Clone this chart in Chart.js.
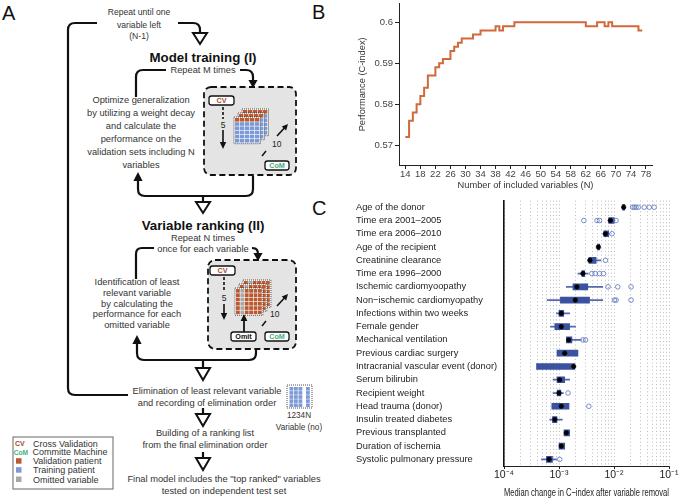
<!DOCTYPE html>
<html><head><meta charset="utf-8">
<script src="https://cdn.jsdelivr.net/npm/chart.js@4.4.1/dist/chart.umd.min.js"></script>
<style>
html,body{margin:0;padding:0;background:#fff;width:688px;height:498px;overflow:hidden;}
#wrap{position:relative;width:688px;height:498px;overflow:hidden;}
#svgA{position:absolute;left:0;top:0;}
#cB{position:absolute;left:345px;top:-4px;width:343px;height:199px;}
#cC{position:absolute;left:345px;top:195px;width:343px;height:305px;}
</style></head><body>
<div id="wrap">
<svg id="svgA" width="345" height="498" viewBox="0 0 345 498" font-family="'Liberation Sans', Arial, sans-serif">
<text x="2" y="20" font-size="20" fill="#111">A</text>
<text x="312" y="19" font-size="20" fill="#111">B</text>
<text x="312" y="215" font-size="20" fill="#111">C</text>

<rect x="204" y="87" width="92" height="88" rx="7" fill="#e4e4e4" stroke="#111" stroke-width="1.8" stroke-dasharray="6,3.5"/>
<rect x="208" y="260" width="88" height="89" rx="7" fill="#e4e4e4" stroke="#111" stroke-width="1.8" stroke-dasharray="6,3.5"/>

<g fill="none" stroke="#111" stroke-width="2.2" stroke-linejoin="round">
<path d="M128,395 H75 Q68,395 68,388 V30 Q68,23 75,23 H97"/>
<path d="M178,23 H193 Q200,23 200,30 V33"/>
<path d="M166,70 H143 Q136,70 136,77 V97"/>
<path d="M240,70 H246 Q253,70 253,77 V81"/>
<path d="M138,180 V189 Q138,196 145,196 H246 Q253,196 253,189 V176"/>
<path d="M203,196 V202"/>
<path d="M154,248 H142 Q136,248 136,254 V279"/>
<path d="M252,248 Q258,248 258,254"/>
<path d="M137,343 V353 Q137,360 144,360 H249 Q256,360 256,353 V349"/>
<path d="M203,360 V368"/>
<path d="M203,408 V414"/>
<path d="M203,452 V458"/>
</g>
<g fill="#fff" stroke="#111" stroke-width="2" stroke-linejoin="miter">
<polygon points="193,33 207,33 200,44"/>
<polygon points="196,202 210,202 203,213"/>
<polygon points="196,368 210,368 203,380"/>
<polygon points="196,414 210,414 203,426"/>
<polygon points="196,458 210,458 203,470"/>
</g>
<g id="gridLayer"></g>
<g id="arrowLayer"></g>

<g fill="#fff" stroke="#111" stroke-width="1.3">
<rect x="209" y="96" width="25" height="9" rx="2.5"/>
<rect x="265" y="161" width="24" height="9" rx="2.5"/>
<rect x="210" y="266" width="25" height="9" rx="2.5"/>
<rect x="231" y="332" width="25" height="9" rx="2.5"/>
<rect x="265" y="332" width="24" height="9" rx="2.5"/>
</g>
<g font-size="7.2" font-weight="bold" text-anchor="middle">
<text x="221.5" y="103.4" fill="#a84a2a">CV</text>
<text x="277" y="168.4" fill="#3fae7d">CoM</text>
<text x="222.5" y="273.4" fill="#a84a2a">CV</text>
<text x="243.5" y="339.4" fill="#111">Omit</text>
<text x="277" y="339.4" fill="#3fae7d">CoM</text>
</g>
<g font-size="8.5" fill="#222">
<text x="223" y="127.5" text-anchor="middle">5</text>
<text x="272" y="147">10</text>
<text x="224" y="301" text-anchor="middle">5</text>
<text x="270" y="317">10</text>
</g>

<g font-size="8.6" fill="#333" text-anchor="middle">
<text x="139" y="15">Repeat until one</text>
<text x="139" y="28">variable left</text>
<text x="139" y="39">(N-1)</text>
</g>
<g font-size="13.3" font-weight="bold" fill="#111" text-anchor="middle">
<text x="203" y="61.5">Model training (I)</text>
<text x="203" y="229.5">Variable ranking (II)</text>
</g>
<g font-size="9.3" fill="#333" text-anchor="middle">
<text x="203" y="73.3">Repeat M times</text>
<text x="141" y="103.2">Optimize generalization</text>
<text x="141" y="116">by utilizing a weight decay</text>
<text x="141" y="129">and calculate the</text>
<text x="141" y="142.3">performance on the</text>
<text x="141" y="155">validation sets including N</text>
<text x="141" y="167.5">variables</text>
<text x="203" y="240.5">Repeat N times</text>
<text x="203" y="251.5">once for each variable</text>
<text x="137" y="285.3">Identification of least</text>
<text x="137" y="296">relevant variable</text>
<text x="137" y="306.6">by calculating the</text>
<text x="137" y="317.3">performance for each</text>
<text x="137" y="328">omitted variable</text>
<text x="207" y="394.3">Elimination of least relevant variable</text>
<text x="207" y="406.3">and recording of elimination order</text>
<text x="205" y="436.3">Building of a ranking list</text>
<text x="205" y="448.3">from the final elimination order</text>
<text x="224" y="482.3">Final model includes the "top ranked" variables</text>
<text x="224" y="493.6">tested on independent test set</text>
</g>
<g font-size="8.2" fill="#333" text-anchor="middle">
<text x="299" y="418">1234N</text>
<text x="299" y="430">Variable (no)</text>
</g>

<rect x="13" y="437" width="100" height="52" fill="#fff" stroke="#666" stroke-width="1"/>
<g font-size="9" fill="#333">
<text x="15" y="446.2" font-size="7" font-weight="bold" fill="#a84a2a">CV</text>
<text x="33" y="446.5">Cross Validation</text>
<text x="13.8" y="454.6" font-size="6.6" font-weight="bold" fill="#3fae7d">CoM</text>
<text x="32.5" y="454.9">Committe Machine</text>
<rect x="16" y="458.2" width="5.5" height="5.5" fill="#b95a32"/>
<text x="33" y="464.2">Validation patient</text>
<rect x="16" y="467.2" width="5.5" height="5.5" fill="#7d9ad8"/>
<text x="33" y="473.2">Training patient</text>
<rect x="16" y="476.5" width="5.5" height="5.5" fill="#a8a8a8"/>
<text x="33" y="482.5">Omitted variable</text>
</g>
</svg>
<canvas id="cB" width="343" height="199"></canvas>
<canvas id="cC" width="343" height="305"></canvas>
</div>
<script>
// ---------- Panel A helper drawing (flowchart decorations) ----------
const NS = 'http://www.w3.org/2000/svg';
function el(tag, attrs, parent) {
  const e = document.createElementNS(NS, tag);
  for (const k in attrs) e.setAttribute(k, attrs[k]);
  parent.appendChild(e); return e;
}
const gridLayer = document.getElementById('gridLayer');
const arrowLayer = document.getElementById('arrowLayer');
function cellGrid(x, y, cols, rows, cw, ch, colorFn) {
  el('rect', {x: x - 1, y: y - 1, width: cols * cw + 1.5, height: rows * ch + 1.5, fill: '#fff', stroke: '#222', 'stroke-width': 0.8, 'stroke-dasharray': '1,1'}, gridLayer);
  for (let r = 0; r < rows; r++) for (let c = 0; c < cols; c++) {
    el('rect', {x: x + c * cw, y: y + r * ch, width: cw - 0.6, height: ch - 0.6, fill: colorFn(r, c)}, gridLayer);
  }
}
const RED = '#b95a32', BLUE = '#7d9ad8', GREY = '#a8a8a8';
for (let k = 2; k >= 0; k--) cellGrid(235 + 4 * k, 118 - 4 * k, 5, 6, 5, 4.2, (r) => r === 0 ? RED : BLUE);
for (let k = 2; k >= 0; k--) cellGrid(236 + 4 * k, 289 - 4 * k, 6, 6, 4.4, 4.3, (r, c) => c === 1 ? GREY : RED);
el('rect', {x: 287, y: 385, width: 25, height: 23, fill: '#fff', stroke: '#222', 'stroke-width': 0.8, 'stroke-dasharray': '1,1'}, gridLayer);
[289.5, 294, 298.5, 306].forEach(cx => { for (let r = 0; r < 5; r++) el('rect', {x: cx, y: 387 + r * 4.1, width: 3.8, height: 3.6, fill: BLUE}, gridLayer); });

function head(x1, y1, x2, y2, len, w) {
  const a = Math.atan2(y2 - y1, x2 - x1);
  const bx = x2 - len * Math.cos(a), by = y2 - len * Math.sin(a);
  const px = -Math.sin(a) * w, py = Math.cos(a) * w;
  el('polygon', {points: `${x2},${y2} ${bx + px},${by + py} ${bx - px},${by - py}`, fill: '#111'}, arrowLayer);
}
function arrow(x1, y1, x2, y2, len, w, sw, dash) {
  const a = Math.atan2(y2 - y1, x2 - x1);
  const ex = x2 - (len - 1) * Math.cos(a), ey = y2 - (len - 1) * Math.sin(a);
  const at = {x1, y1, x2: ex, y2: ey, stroke: '#111', 'stroke-width': sw};
  if (dash) at['stroke-dasharray'] = dash;
  el('line', at, arrowLayer);
  head(x1, y1, x2, y2, len, w);
}
head(253, 70, 253, 88, 8, 4.6);
head(138, 196, 138, 172, 9, 4.6);
head(258, 248, 258, 261, 8, 4.6);
head(137, 360, 137, 335, 9, 4.6);
el('line', {x1: 223, y1: 107, x2: 223, y2: 119, stroke: '#111', 'stroke-width': 1.6, 'stroke-dasharray': '3,2'}, arrowLayer);
arrow(223, 130, 223, 149, 7, 3.2, 1.6);
el('line', {x1: 224, y1: 277, x2: 224, y2: 292, stroke: '#111', 'stroke-width': 1.6, 'stroke-dasharray': '3,2'}, arrowLayer);
arrow(224, 304, 224, 320, 7, 3.2, 1.6);
arrow(244, 332, 244, 314, 7, 3.4, 1.8);
el('line', {x1: 262, y1: 156, x2: 266, y2: 151, stroke: '#111', 'stroke-width': 1.5}, arrowLayer);
arrow(277, 136, 288, 124, 6, 3, 1.6);
el('line', {x1: 262, y1: 326, x2: 266, y2: 321, stroke: '#111', 'stroke-width': 1.5}, arrowLayer);
arrow(277, 306, 288, 294, 6, 3, 1.6);

// ---------- DATA ----------
// Panel B: performance vs number of included variables
const nIncluded = [14,15,16,17,18,19,20,21,22,23,24,25,26,27,28,29,30,31,32,33,34,35,36,37,38,39,40,41,42,43,44,45,46,47,48,49,50,51,52,53,54,55,56,57,58,59,60,61,62,63,64,65,66,67,68,69,70,71,72,73,74,75,76,77];
const cIndex = [0.572,0.576,0.578,0.580,0.582,0.584,0.587,0.587,0.589,0.590,0.591,0.591,0.593,0.594,0.595,0.596,0.596,0.596,0.597,0.597,0.598,0.598,0.598,0.598,0.599,0.598,0.599,0.599,0.599,0.600,0.600,0.600,0.600,0.600,0.600,0.600,0.600,0.600,0.600,0.600,0.600,0.600,0.600,0.600,0.600,0.600,0.600,0.600,0.599,0.599,0.599,0.600,0.600,0.599,0.600,0.599,0.599,0.599,0.599,0.599,0.599,0.599,0.598,0.598];
const bXTicks = [14,18,22,26,30,34,38,42,46,50,54,58,62,66,70,74,78];
const bYTicks = [0.57,0.58,0.59,0.6];

// Panel C: median change in C-index after variable removal (box plots)
const cLabels = ['Age of the donor','Time era 2001\u20132005','Time era 2006\u20132010','Age of the recipient','Creatinine clearance','Time era 1996\u20132000','Ischemic cardiomyoopathy','Non\u2212ischemic cardiomyopathy','Infections within two weeks','Female gender','Mechanical ventilation','Previous cardiac surgery','Intracranial vascular event (donor)','Serum bilirubin','Recipient weight','Head trauma (donor)','Insulin treated diabetes','Previous transplanted','Duration of ischemia','Systolic pulmonary pressure'];
const cMedian = [0.0150,0.0086,0.0070,0.0052,0.00364,0.00272,0.00211,0.00198,0.00110,0.00110,0.00150,0.00127,0.00185,0.00103,0.00100,0.00110,0.00084,0.00136,0.00110,0.00066];
const cQ1 =     [0.0143,0.0080,0.0065,0.0050,0.00350,0.00262,0.00179,0.00106,0.00100,0.00084,0.00136,0.00092,0.00039,0.00092,0.00093,0.00074,0.00076,0.00123,0.00100,0.00059];
const cQ3 =     [0.0157,0.0101,0.0080,0.0055,0.00474,0.00292,0.00334,0.00359,0.00122,0.00156,0.00172,0.00221,0.00193,0.00127,0.00108,0.00152,0.00092,0.00156,0.00127,0.00076];
const cWhiskLo = [null,0.0078,0.0063,null,0.00340,0.00221,0.00136,0.00061,0.00090,0.00070,0.00136,null,null,0.00078,0.00078,null,0.00068,null,null,0.00048];
const cWhiskHi = [null,0.0104,0.0083,null,0.00580,0.00340,0.00625,0.00625,0.00156,0.00200,0.00254,null,null,0.00156,0.00120,null,0.00115,null,null,0.00090];
const cOutliers = [[0.0218,0.0234,0.0251,0.0276,0.0355,0.0437,0.0537],[0.00283,0.0049,0.00545,0.0109],[0.0092],[],[0.0070],[0.00395,0.00455,0.00545,0.00643],[0.0078,0.0117,0.0204],[0.0102,0.0109,0.0204],[],[],[0.00272,0.00304],[],[],[],[0.00146],[0.00349],[],[],[],[0.00103]];
const cXTicks = [1e-4,2e-4,3e-4,4e-4,5e-4,6e-4,7e-4,8e-4,9e-4,1e-3,2e-3,3e-3,4e-3,5e-3,6e-3,7e-3,8e-3,9e-3,1e-2,2e-2,3e-2,4e-2,5e-2,6e-2,7e-2,8e-2,9e-2,1e-1];

// ---------- CHARTS ----------
Chart.defaults.font.family = "'Liberation Sans', Arial, sans-serif";
Chart.defaults.animation = false;
const SUP = {'-':'\u207B','0':'\u2070','1':'\u00B9','2':'\u00B2','3':'\u00B3','4':'\u2074'};

new Chart(document.getElementById('cB'), {
  type: 'line',
  data: { datasets: [{
    data: nIncluded.map((n, i) => ({x: n, y: cIndex[i]})),
    stepped: true, borderColor: '#d2693b', borderWidth: 2, pointRadius: 0, fill: false
  }]},
  options: {
    responsive: false, events: [],
    layout: {padding: {left: 8, right: 36, top: 0, bottom: 4}},
    plugins: {legend: {display: false}, tooltip: {enabled: false}},
    scales: {
      x: { type: 'linear', min: 12.32, max: 79.6,
        afterBuildTicks: s => { s.ticks = bXTicks.map(v => ({value: v})); },
        afterFit: s => { s.height = 26; },
        ticks: {autoSkip: false, maxRotation: 0, padding: 0, color: '#444', font: {size: 9.5}},
        grid: {drawOnChartArea: false, tickLength: 4, tickColor: '#222'},
        border: {color: '#222', width: 1},
        title: {display: true, text: 'Number of included variables (N)', color: '#333', font: {size: 9.3}, padding: {top: 0, bottom: 0}}
      },
      y: { type: 'linear', min: 0.5652, max: 0.6045,
        afterBuildTicks: s => { s.ticks = bYTicks.map(v => ({value: v})); },
        afterFit: s => { s.width = 46; },
        ticks: {includeBounds: false, padding: 2, color: '#444', font: {size: 9.5}, callback: v => String(+v.toFixed(3))},
        grid: {drawOnChartArea: false, tickLength: 4, tickColor: '#222'},
        border: {color: '#222', width: 1},
        title: {display: true, text: 'Performance (C-index)', color: '#333', font: {size: 9.3}, padding: {top: 4, bottom: 0}}
      }
    }
  }
});

const isMajor = v => Math.abs(Math.log10(v) - Math.round(Math.log10(v))) < 1e-6;
const supLabel = v => '10' + String(Math.round(Math.log10(v))).split('').map(ch => SUP[ch]).join('');
const outlierPts = [];
cOutliers.forEach((arr, i) => arr.forEach(v => outlierPts.push({x: v, y: cLabels[i]})));

new Chart(document.getElementById('cC'), {
  type: 'bar',
  data: {
    labels: cLabels,
    datasets: [
      { type: 'scatter', data: cMedian.map((v, i) => ({x: v, y: cLabels[i]})), order: 1,
        pointRadius: 2.3, pointBackgroundColor: '#000', pointBorderColor: '#000', pointBorderWidth: 0.5 },
      { type: 'scatter', data: outlierPts, order: 2,
        pointRadius: 2.3, pointBackgroundColor: 'rgba(255,255,255,0)', pointBorderColor: '#6a7fc4', pointBorderWidth: 0.9 },
      { data: cQ1.map((v, i) => [v, cQ3[i]]), order: 3, grouped: false, barThickness: 6,
        backgroundColor: '#3a52a0', borderWidth: 0 },
      { data: cWhiskLo.map((v, i) => v === null ? null : [v, cWhiskHi[i]]), order: 4, grouped: false, barThickness: 1.1,
        backgroundColor: '#5569b0', borderWidth: 0 }
    ]
  },
  options: {
    responsive: false, events: [], indexAxis: 'y',
    layout: {padding: {left: 11, right: 19, top: 5, bottom: 0}},
    plugins: {legend: {display: false}, tooltip: {enabled: false}},
    scales: {
      x: { type: 'logarithmic', min: 1e-4, max: 1e-1, position: 'bottom',
        afterBuildTicks: s => { s.ticks = cXTicks.map(v => ({value: v, major: isMajor(v)})); },
        afterFit: s => { s.height = 34; },
        ticks: {autoSkip: false, maxRotation: 0, padding: 0, color: '#222', font: {size: 10.5},
          callback: (v) => isMajor(v) ? supLabel(v) : ''},
        grid: {display: true, drawOnChartArea: true, color: '#a9a9a9', lineWidth: 0.8, tickLength: 3,
          tickWidth: 1, tickColor: c => (c.tick && isMajor(c.tick.value)) ? '#222' : 'rgba(0,0,0,0)'},
        border: {display: true, color: '#222', width: 1, dash: [1, 2.6]},
        title: {display: true, text: 'Median change in C\u2212index after variable removal', color: '#222', font: {size: 11}, padding: {top: 0, bottom: 0}}
      },
      y: { type: 'category', labels: cLabels, offset: true,
        afterFit: s => { s.width = 148; },
        ticks: {autoSkip: false, crossAlign: 'far', padding: 0, color: '#222', font: {size: 9.3}},
        grid: {display: false},
        border: {display: true, color: '#111', width: 1.6}
      }
    }
  }
});
</script>
</body></html>
